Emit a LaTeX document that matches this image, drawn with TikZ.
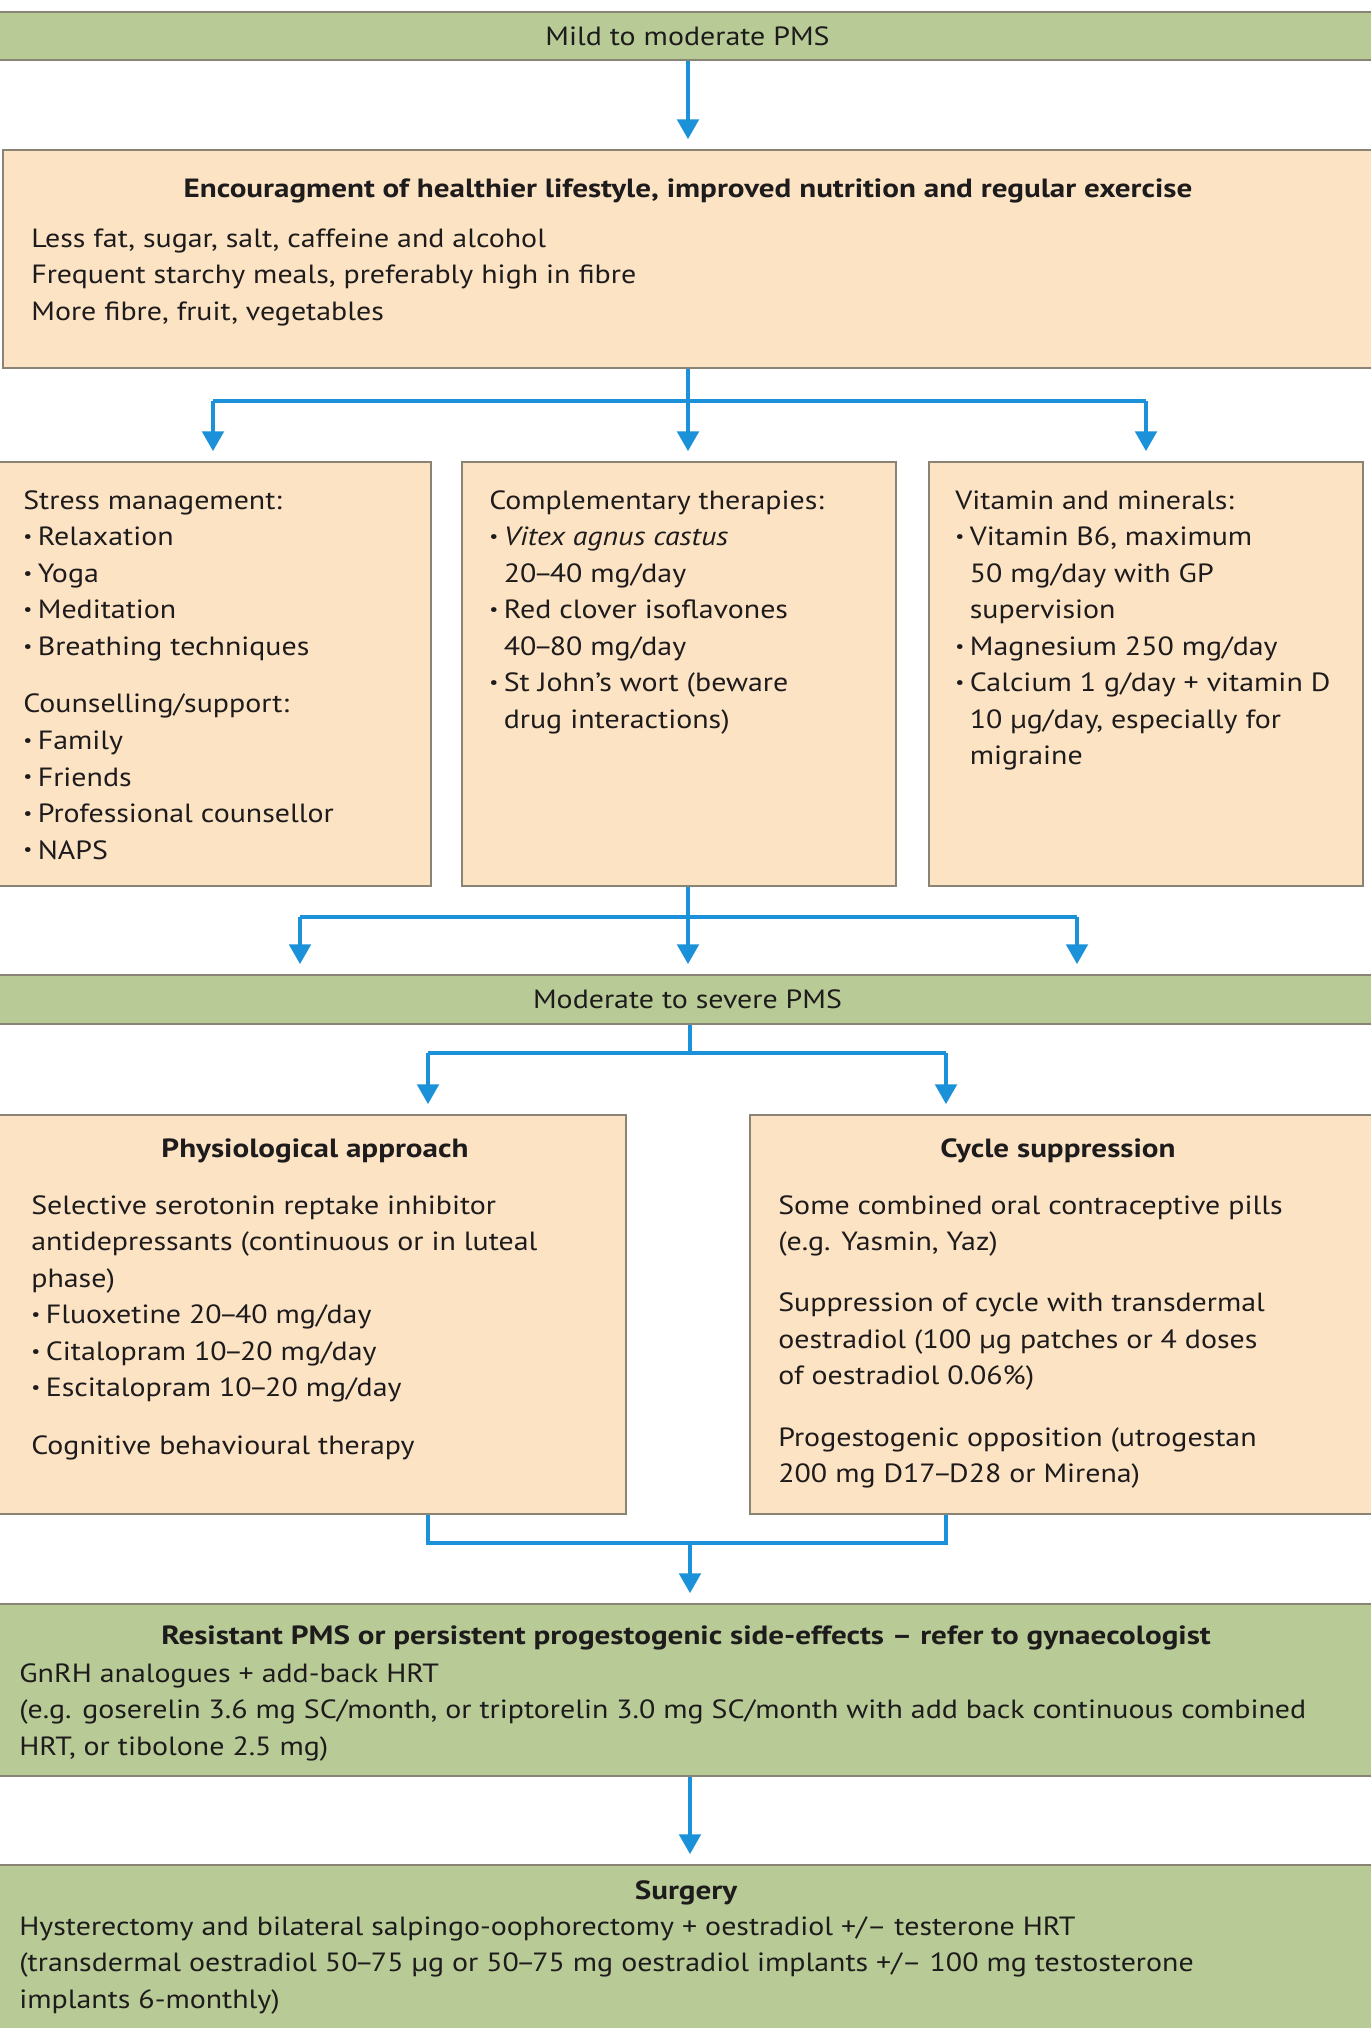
\documentclass[tikz,border=0pt]{standalone}
\usepackage{fontspec}
\setmainfont{PT Sans}[FakeStretch=1.135]
\newfontfamily\headfont{PT Sans}[FakeStretch=1.18]
\usepackage{tikz}
\usetikzlibrary{positioning, arrows.meta}

\definecolor{pmsgreen}{RGB}{184,203,150}
\definecolor{pmsorange}{RGB}{252,227,196}
\definecolor{pmsedge}{RGB}{138,132,118}
\definecolor{pmsblue}{RGB}{27,145,218}
\definecolor{pmstext}{RGB}{30,27,28}
\newcommand{\bul}{\makebox[0.55em][l]{\raisebox{0.12em}{\fontsize{10}{10}\selectfont\textbullet}}}
\newcommand{\ind}{\hspace*{0.55em}}
\newcommand{\rngdash}{\kern-0.12em–\kern-0.12em}

\begin{document}
\begin{tikzpicture}[x=0.02cm, y=-0.02cm,
  every node/.style={font=\fontsize{15}{20.8}\selectfont, text=pmstext},
  greenbox/.style={draw=pmsedge, line width=0.8pt, fill=pmsgreen, minimum width=27.7cm, inner sep=0pt},
  orangebox/.style={draw=pmsedge, line width=0.8pt, fill=pmsorange, inner sep=0pt},
  body/.style={align=left, anchor=north west, inner sep=0pt},
  head/.style={anchor=north, inner sep=0pt, font=\fontsize{15}{20.8}\headfont\bfseries},
  ln/.style={draw=pmsblue, line width=2.8pt, line join=miter},
  arr/.style={ln, -{Triangle[width=0.42cm, length=0.4cm]}, shorten >=0.2cm}]
\useasboundingbox (0,0) rectangle (1371,2028);
\fill[white] (0,0) rectangle (1371,2028);
\clip (0,0) rectangle (1371,2028);

% boxes
\node[greenbox, minimum height=0.96cm] (mild) at (687.5,36) {Mild to moderate PMS};
\node[orangebox, minimum width=27.54cm, minimum height=4.36cm] (life) at (691.5,259) {};
\node[orangebox, minimum width=8.72cm, minimum height=8.48cm] (stress) at (213,674) {};
\node[orangebox, minimum width=8.68cm, minimum height=8.48cm] (compl) at (679,674) {};
\node[orangebox, minimum width=8.68cm, minimum height=8.48cm] (vitam) at (1146,674) {};
\node[greenbox, minimum height=0.98cm] (moder) at (687.5,999.5) {Moderate to severe PMS};
\node[orangebox, minimum width=12.62cm, minimum height=7.98cm] (physio) at (310.5,1314.5) {};
\node[orangebox, minimum width=12.6cm, minimum height=7.98cm] (cycle) at (1065,1314.5) {};
\node[greenbox, minimum height=3.44cm] (resist) at (687.5,1690) {};
\node[greenbox, minimum height=3.6cm] (surg) at (687.5,1955) {};

% texts
\node[head] (lifehead) at (688,178) {Encouragment of healthier lifestyle, improved nutrition and regular exercise};
\node[body] (lifetext) at (31,228) {Less fat, sugar, salt, caffeine and alcohol\\
  Frequent starchy meals, preferably high in fibre\\
  More fibre, fruit, vegetables};
\node[body] (stresstext) at (23,490) {Stress management:\\
  \bul Relaxation\\
  \bul Yoga\\
  \bul Meditation\\
  \bul Breathing techniques\\[12pt]
  Counselling/support:\\
  \bul Family\\
  \bul Friends\\
  \bul Professional counsellor\\
  \bul NAPS};
\node[body] (compltext) at (489,490) {Complementary therapies:\\
  \bul\textit{Vitex agnus castus}\\
  \ind 20\rngdash40 mg/day\\
  \bul Red clover isoflavones\\
  \ind 40\rngdash80 mg/day\\
  \bul St John’s wort (beware\\
  \ind drug interactions)};
\node[body] (vitamtext) at (955,490) {Vitamin and minerals:\\
  \bul Vitamin B6, maximum\\
  \ind 50 mg/day with GP\\
  \ind supervision\\
  \bul Magnesium 250 mg/day\\
  \bul Calcium 1 g/day + vitamin D\\
  \ind 10 µg/day, especially for\\
  \ind migraine};
\node[head] (physiohead) at (315,1138) {Physiological approach};
\node[body] (physiotext) at (31,1195) {Selective serotonin reptake inhibitor\\
  antidepressants (continuous or in luteal\\
  phase)\\
  \bul Fluoxetine 20\rngdash40 mg/day\\
  \bul Citalopram 10\rngdash20 mg/day\\
  \bul Escitalopram 10\rngdash20 mg/day\\[12pt]
  Cognitive behavioural therapy};
\node[head] (cyclehead) at (1058,1138) {Cycle suppression};
\node[body] (cycletext) at (778,1195) {Some combined oral contraceptive pills\\
  (e.g. Yasmin, Yaz)\\[14pt]
  Suppression of cycle with transdermal\\
  oestradiol (100 µg patches or 4 doses\\
  of oestradiol 0.06\%)\\[14pt]
  Progestogenic opposition (utrogestan\\
  200 mg D17\rngdash D28 or Mirena)};
\node[head] (resisthead) at (686,1625) {Resistant PMS or persistent progestogenic side-effects – refer to gynaecologist};
\node[body] (resisttext) at (19,1663) {GnRH analogues + add-back HRT\\
  (e.g. goserelin 3.6 mg SC/month, or triptorelin 3.0 mg SC/month with add back continuous combined\\
  HRT, or tibolone 2.5 mg)};
\node[head] (surghead) at (686,1880) {Surgery};
\node[body] (surgtext) at (19,1916) {Hysterectomy and bilateral salpingo-oophorectomy + oestradiol +/– testerone HRT\\
  (transdermal oestradiol 50\rngdash75 µg or 50\rngdash75 mg oestradiol implants +/– 100 mg testosterone\\
  implants 6-monthly)};

% connectors
\coordinate (ja) at (688,401);
\coordinate (jb) at (688,917);
\coordinate (kb1) at (300,917);
\coordinate (kb3) at (1077,917);
\coordinate (jc) at (690,1053);
\coordinate (kc1) at (428,1053);
\coordinate (kc2) at (946,1053);
\coordinate (jd) at (690,1543);
\coordinate (kd1) at (428,1543);
\coordinate (kd2) at (946,1543);

\draw[arr] (mild.south -| ja) -- (ja |- life.north);
\draw[ln] (life.south -| ja) -- (ja);
\draw[ln] (ja -| stress.north) -- (ja -| vitam.north);
\draw[arr] (ja -| stress.north) -- (stress.north);
\draw[arr] (ja) -- (ja |- compl.north);
\draw[arr] (ja -| vitam.north) -- (vitam.north);
\draw[ln] (compl.south -| jb) -- (jb);
\draw[ln] (kb1) -- (kb3);
\foreach \c in {kb1,jb,kb3}
  \draw[arr] (\c) -- (\c |- moder.north);
\draw[ln] (moder.south -| jc) -- (jc);
\draw[ln] (kc1) -- (kc2);
\foreach \c in {kc1,kc2}
  \draw[arr] (\c) -- (\c |- physio.north);
\draw[ln] (physio.south -| kd1) -- (kd1) -- (kd2) -- (cycle.south -| kd2);
\draw[arr] (jd) -- (jd |- resist.north);
\draw[arr] (resist.south -| jd) -- (jd |- surg.north);
\end{tikzpicture}
\end{document}
